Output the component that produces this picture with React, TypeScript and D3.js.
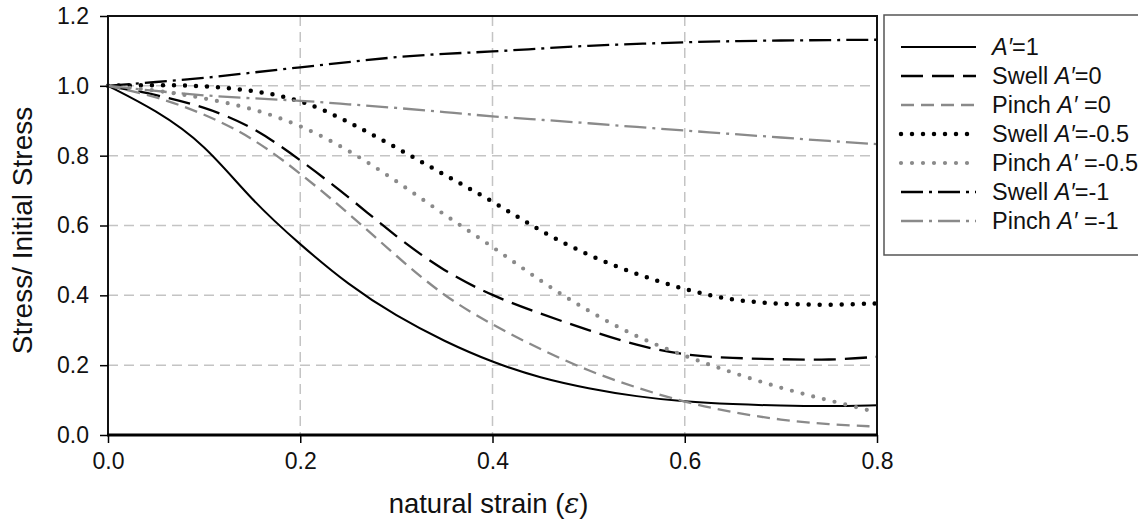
import { useEffect, useRef } from 'react';
import * as d3 from 'd3';

// natural strain sample points
const strain = [0, 0.05, 0.1, 0.15, 0.2, 0.25, 0.3, 0.35, 0.4, 0.45, 0.5, 0.55, 0.6, 0.65, 0.7, 0.75, 0.8];

// stress / initial stress
const aOne = [1.0, 0.93, 0.835, 0.67, 0.545, 0.43, 0.34, 0.268, 0.208, 0.163, 0.133, 0.11, 0.095, 0.088, 0.084, 0.082, 0.085];
const swellZero = [1.0, 0.975, 0.94, 0.885, 0.788, 0.683, 0.567, 0.468, 0.398, 0.347, 0.3, 0.256, 0.228, 0.22, 0.217, 0.214, 0.224];
const pinchZero = [1.0, 0.97, 0.92, 0.853, 0.75, 0.636, 0.512, 0.396, 0.315, 0.245, 0.183, 0.135, 0.094, 0.064, 0.043, 0.03, 0.024];
const swellHalf = [1.0, 1.003, 1.0, 0.987, 0.962, 0.898, 0.823, 0.745, 0.67, 0.583, 0.514, 0.46, 0.416, 0.385, 0.375, 0.372, 0.377];
const pinchHalf = [1.0, 0.988, 0.965, 0.936, 0.888, 0.817, 0.728, 0.63, 0.54, 0.44, 0.354, 0.28, 0.226, 0.178, 0.134, 0.099, 0.065];
const swellOne = [1.0, 1.011, 1.022, 1.038, 1.053, 1.068, 1.083, 1.092, 1.098, 1.107, 1.115, 1.12, 1.125, 1.128, 1.13, 1.131, 1.132];
const pinchOne = [1.0, 0.985, 0.972, 0.964, 0.958, 0.947, 0.937, 0.925, 0.912, 0.903, 0.893, 0.882, 0.872, 0.862, 0.852, 0.842, 0.833];

const xTicks = [0, 0.2, 0.4, 0.6, 0.8];
const yTicks = [0, 0.2, 0.4, 0.6, 0.8, 1.0, 1.2];

// legend labels: [prefix, suffix] around the italic A′
const labels = [
    ['', '=1'],
    ['Swell ', '=0'],
    ['Pinch ', ' =0'],
    ['Swell ', '=-0.5'],
    ['Pinch ', ' =-0.5'],
    ['Swell ', '=-1'],
    ['Pinch ', ' =-1']
];
const seriesValues = [aOne, swellZero, pinchZero, swellHalf, pinchHalf, swellOne, pinchOne];

const GREY = '#8a8a8a';
const lineStyles = [
    { color: '#000', width: 2, dash: null, cap: 'butt' },
    { color: '#000', width: 2.3, dash: '22 9', cap: 'butt' },
    { color: GREY, width: 2.3, dash: '13 7', cap: 'butt' },
    { color: '#000', width: 4.5, dash: '0 11', cap: 'round' },
    { color: GREY, width: 4.2, dash: '0 11', cap: 'round' },
    { color: '#000', width: 2.3, dash: '22 6 3 6', cap: 'butt' },
    { color: GREY, width: 2.3, dash: '22 6 3 6', cap: 'butt' }
];

const FONT = '"Liberation Sans", Arial, sans-serif';

const App = () => {
    const svgRef = useRef<SVGSVGElement | null>(null);

    useEffect(() => {
        if (!svgRef.current) return;
        const svg = d3.select(svgRef.current);
        svg.selectAll('*').remove();

        const left = 108, right = 877, top = 16, bottom = 435;

        const x = d3.scaleLinear().domain([0, 0.8]).range([left, right]);
        const y = d3.scaleLinear().domain([0, 1.2]).range([bottom, top]);

        // grid
        svg.append('g')
            .selectAll('line')
            .data(yTicks.filter(t => t > 0 && t < 1.2))
            .enter()
            .append('line')
            .attr('x1', left).attr('x2', right)
            .attr('y1', d => y(d)).attr('y2', d => y(d))
            .attr('stroke', '#c4c4c4')
            .attr('stroke-width', 1.5)
            .attr('stroke-dasharray', '10 6');

        svg.append('g')
            .selectAll('line')
            .data(xTicks.filter(t => t > 0 && t < 0.8))
            .enter()
            .append('line')
            .attr('x1', d => x(d)).attr('x2', d => x(d))
            .attr('y1', top).attr('y2', bottom)
            .attr('stroke', '#c4c4c4')
            .attr('stroke-width', 1.5)
            .attr('stroke-dasharray', '10 6');

        // curves (smoothed, like the original spreadsheet plot)
        const line = d3.line<number>()
            .x((d, i) => x(strain[i]))
            .y(d => y(d))
            .curve(d3.curveBasis);

        seriesValues.forEach((vals, i) => {
            const s = lineStyles[i];
            svg.append('path')
                .attr('d', line(vals))
                .attr('fill', 'none')
                .attr('stroke', s.color)
                .attr('stroke-width', s.width)
                .attr('stroke-linecap', s.cap)
                .attr('stroke-dasharray', s.dash);
        });

        // frame
        svg.append('rect')
            .attr('x', left).attr('y', top)
            .attr('width', right - left).attr('height', bottom - top)
            .attr('fill', 'none')
            .attr('stroke', '#111')
            .attr('stroke-width', 2);
        svg.append('line')
            .attr('x1', left - 1).attr('x2', right + 1)
            .attr('y1', bottom).attr('y2', bottom)
            .attr('stroke', '#000').attr('stroke-width', 3);

        // axes
        const xAxis = svg.append('g')
            .attr('transform', `translate(0,${bottom})`)
            .call(d3.axisBottom(x).tickValues(xTicks).tickFormat(d3.format('.1f')).tickSize(8).tickPadding(10));
        xAxis.select('.domain').remove();
        xAxis.selectAll('line').attr('stroke', '#000').attr('stroke-width', 1.5);
        xAxis.selectAll('text')
            .attr('font-family', FONT).attr('font-size', 23).attr('fill', '#111');

        const yAxis = svg.append('g')
            .attr('transform', `translate(${left},0)`)
            .call(d3.axisLeft(y).tickValues(yTicks).tickFormat(d3.format('.1f')).tickSize(8).tickPadding(11));
        yAxis.select('.domain').remove();
        yAxis.selectAll('line').attr('stroke', '#000').attr('stroke-width', 1.5);
        yAxis.selectAll('text')
            .attr('font-family', FONT).attr('font-size', 23).attr('fill', '#111');

        // axis titles
        const xTitle = svg.append('text')
            .attr('x', (left + right) / 2 - 4)
            .attr('y', 513)
            .attr('text-anchor', 'middle')
            .attr('font-family', FONT)
            .attr('font-size', 27.5)
            .attr('fill', '#111');
        xTitle.append('tspan').text('natural strain (');
        xTitle.append('tspan').attr('font-style', 'italic').attr('font-family', '"DejaVu Serif", serif').text('ε');
        xTitle.append('tspan').text(')');

        svg.append('text')
            .attr('transform', `translate(32,${(top + bottom) / 2 + 5}) rotate(-90)`)
            .attr('text-anchor', 'middle')
            .attr('font-family', FONT)
            .attr('font-size', 28)
            .attr('fill', '#111')
            .text('Stress/ Initial Stress');

        // legend
        const legend = svg.append('g');
        legend.append('rect')
            .attr('x', 884).attr('y', 15)
            .attr('width', 270).attr('height', 240)
            .attr('fill', '#fff')
            .attr('stroke', '#555')
            .attr('stroke-width', 1.5);

        labels.forEach((lab, i) => {
            const s = lineStyles[i];
            const ly = 47 + i * 29;
            legend.append('line')
                .attr('x1', 901).attr('x2', 976)
                .attr('y1', ly).attr('y2', ly)
                .attr('stroke', s.color)
                .attr('stroke-width', s.width)
                .attr('stroke-linecap', s.cap)
                .attr('stroke-dasharray', s.dash);
            const t = legend.append('text')
                .attr('x', 992).attr('y', ly + 8)
                .attr('font-family', FONT)
                .attr('font-size', 23.5)
                .attr('fill', '#111');
            if (lab[0]) t.append('tspan').text(lab[0]);
            t.append('tspan').attr('font-style', 'italic').text('A′');
            t.append('tspan').text(lab[1]);
        });
    }, []);

    return (
        <div style={{ position: 'absolute', left: 0, top: 0, width: 1138, height: 521, background: '#fff' }}>
            <svg ref={svgRef} width={1138} height={521} style={{ display: 'block' }}></svg>
        </div>
    );
};

export default App;
